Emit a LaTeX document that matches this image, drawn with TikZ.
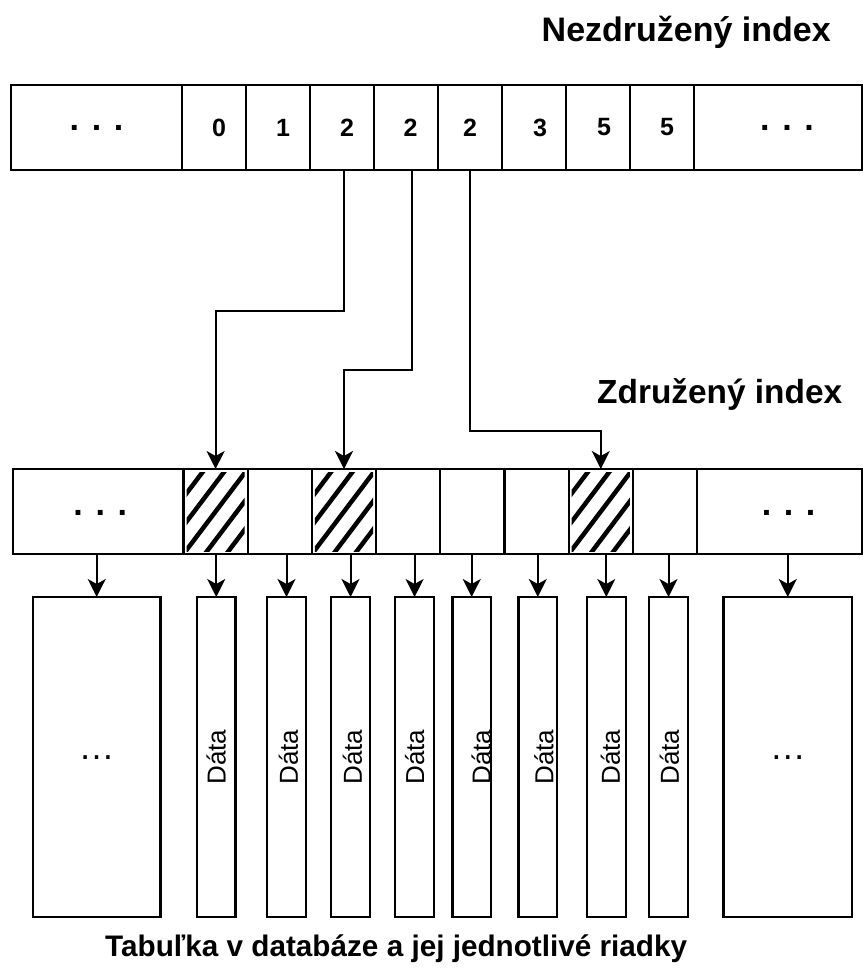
\documentclass[tikz,border=0pt]{standalone}
\usepackage{fontspec}
\usepackage{graphicx}
\setmainfont{Liberation Sans}
\usetikzlibrary{arrows.meta,calc}
\begin{document}
\begin{tikzpicture}[x=1pt,y=-1pt,
  cell/.style={draw, line width=2.2pt, rectangle, inner sep=0pt, outer sep=0pt,
    anchor=north west, minimum height=85pt, font=\fontsize{25}{28}\selectfont\bfseries},
  databox/.style={draw, line width=2.2pt, rectangle, inner sep=0pt, outer sep=0pt,
    anchor=north west, minimum height=320pt, font=\fontsize{26}{30}\selectfont},
  conn/.style={line width=2pt, -{Stealth[length=18pt,width=18pt,inset=5pt]}},
  hatch/.style={line width=4.5pt},
  heading/.style={anchor=base west, inner sep=0pt, font=\fontsize{34}{40}\selectfont\bfseries}
]
\useasboundingbox (0,0) rectangle (864,974);

% headings
\node[heading] (nez) at (541.5,41.7) {Nezdružený index};
\node[heading, font=\fontsize{33.4}{40}\selectfont\bfseries] (zdr) at (597,403) {Združený index};
\node[heading, font=\fontsize{29.7}{36}\selectfont\bfseries] (tab) at (105,956) {Tabuľka v databáze a jej jednotlivé riadky};

% top row (non-clustered index)
\node[cell, minimum width=171pt, font=\fontsize{34}{40}\selectfont\bfseries] (t0) at (11,85) {\raisebox{-6.5pt}{. . .}};
\node[cell, minimum width=64pt] (t1) at (182,85) {\kern10pt 0};
\node[cell, minimum width=64pt] (t2) at (246,85) {\kern10pt 1};
\node[cell, minimum width=64pt] (t3) at (310,85) {\kern10pt 2};
\node[cell, minimum width=64pt] (t4) at (374,85) {\kern9pt 2};
\node[cell, minimum width=64pt] (t5) at (438,85) {2};
\node[cell, minimum width=64pt] (t6) at (502,85) {\kern12pt 3};
\node[cell, minimum width=64pt] (t7) at (566,85) {\kern12pt 5};
\node[cell, minimum width=64pt] (t8) at (630,85) {\kern10pt 5};
\node[cell, minimum width=168pt, font=\fontsize{34}{40}\selectfont\bfseries] (t9) at (694,85) {\kern18pt\raisebox{-6.5pt}{. . .}};

% middle row (clustered index)
\node[cell, minimum width=170.5pt, font=\fontsize{34}{40}\selectfont\bfseries] (m0) at (13,469) {\kern4pt\raisebox{-7.5pt}{. . .}};
\node[cell, minimum width=64.2pt] (m1) at (183.5,469) {};
\node[cell, minimum width=64.2pt] (m2) at (247.7,469) {};
\node[cell, minimum width=64.2pt] (m3) at (311.9,469) {};
\node[cell, minimum width=64.2pt] (m4) at (376.1,469) {};
\node[cell, minimum width=64.2pt] (m5) at (440.3,469) {};
\node[cell, minimum width=64.2pt] (m6) at (504.5,469) {};
\node[cell, minimum width=64.2pt] (m7) at (568.7,469) {};
\node[cell, minimum width=64.2pt] (m8) at (632.9,469) {};
\node[cell, minimum width=164.9pt, font=\fontsize{34}{40}\selectfont\bfseries] (m9) at (697.1,469) {\kern18pt\raisebox{-7.5pt}{. . .}};

% hatching
\foreach \c in {m1,m3,m7} {
  \begin{scope}
    \clip ([shift={(3,-3)}]\c.south west) rectangle ([shift={(-3,3)}]\c.north east);
    \foreach \k in {-2,...,2}
      \draw[hatch] ([shift={(\k*21.4-64.2,85)}]\c.south west) -- ([shift={(\k*21.4+128.4,-170)}]\c.south west);
  \end{scope}
}

% data boxes
\node[databox, minimum width=127.4pt, font=\fontsize{36}{40}\selectfont] (d0) at (33,597) {\raisebox{-4.7pt}{…}};
\node[databox, minimum width=38.5pt] (d1) at (197,597) {\makebox[0pt]{\rotatebox{90}{Dáta}}};
\node[databox, minimum width=38.6pt] (d2) at (267.2,597) {\makebox[0pt]{\hspace{4pt}\rotatebox{90}{Dáta}}};
\node[databox, minimum width=38.6pt] (d3) at (331.2,597) {\makebox[0pt]{\hspace{4pt}\rotatebox{90}{Dáta}}};
\node[databox, minimum width=38.6pt] (d4) at (395.3,597) {\makebox[0pt]{\rotatebox{90}{Dáta}}};
\node[databox, minimum width=38.6pt] (d5) at (452.4,597) {\makebox[0pt]{\hspace{19pt}\rotatebox{90}{Dáta}}};
\node[databox, minimum width=38.6pt] (d6) at (518.5,597) {\makebox[0pt]{\hspace{12pt}\rotatebox{90}{Dáta}}};
\node[databox, minimum width=38.6pt] (d7) at (587,597) {\makebox[0pt]{\hspace{8pt}\rotatebox{90}{Dáta}}};
\node[databox, minimum width=38.6pt] (d8) at (649.2,597) {\makebox[0pt]{\hspace{2pt}\rotatebox{90}{Dáta}}};
\node[databox, minimum width=128.5pt, font=\fontsize{36}{40}\selectfont] (d9) at (723.5,597) {\raisebox{-4.7pt}{…}};

% connectors from non-clustered to clustered index
\coordinate (h1) at (0,311);
\coordinate (h2) at (0,370.3);
\coordinate (h3) at (0,430.7);
\coordinate (s1) at ([xshift=2pt]t3.south);
\coordinate (s2) at ([xshift=6pt]t4.south);
\coordinate (s3) at (t5.south);
\draw[conn] (s1) -- (s1 |- h1) -| (m1.north);
\draw[conn] (s2) -- (s2 |- h2) -| (m3.north);
\draw[conn] (s3) -- (s3 |- h3) -| (m7.north);

% connectors from clustered index to rows
\foreach \d in {d0,d1,d2,d3,d4,d5,d6,d7,d8,d9}
  \draw[conn] (\d.north |- m0.south) -- (\d.north);
\end{tikzpicture}
\end{document}
